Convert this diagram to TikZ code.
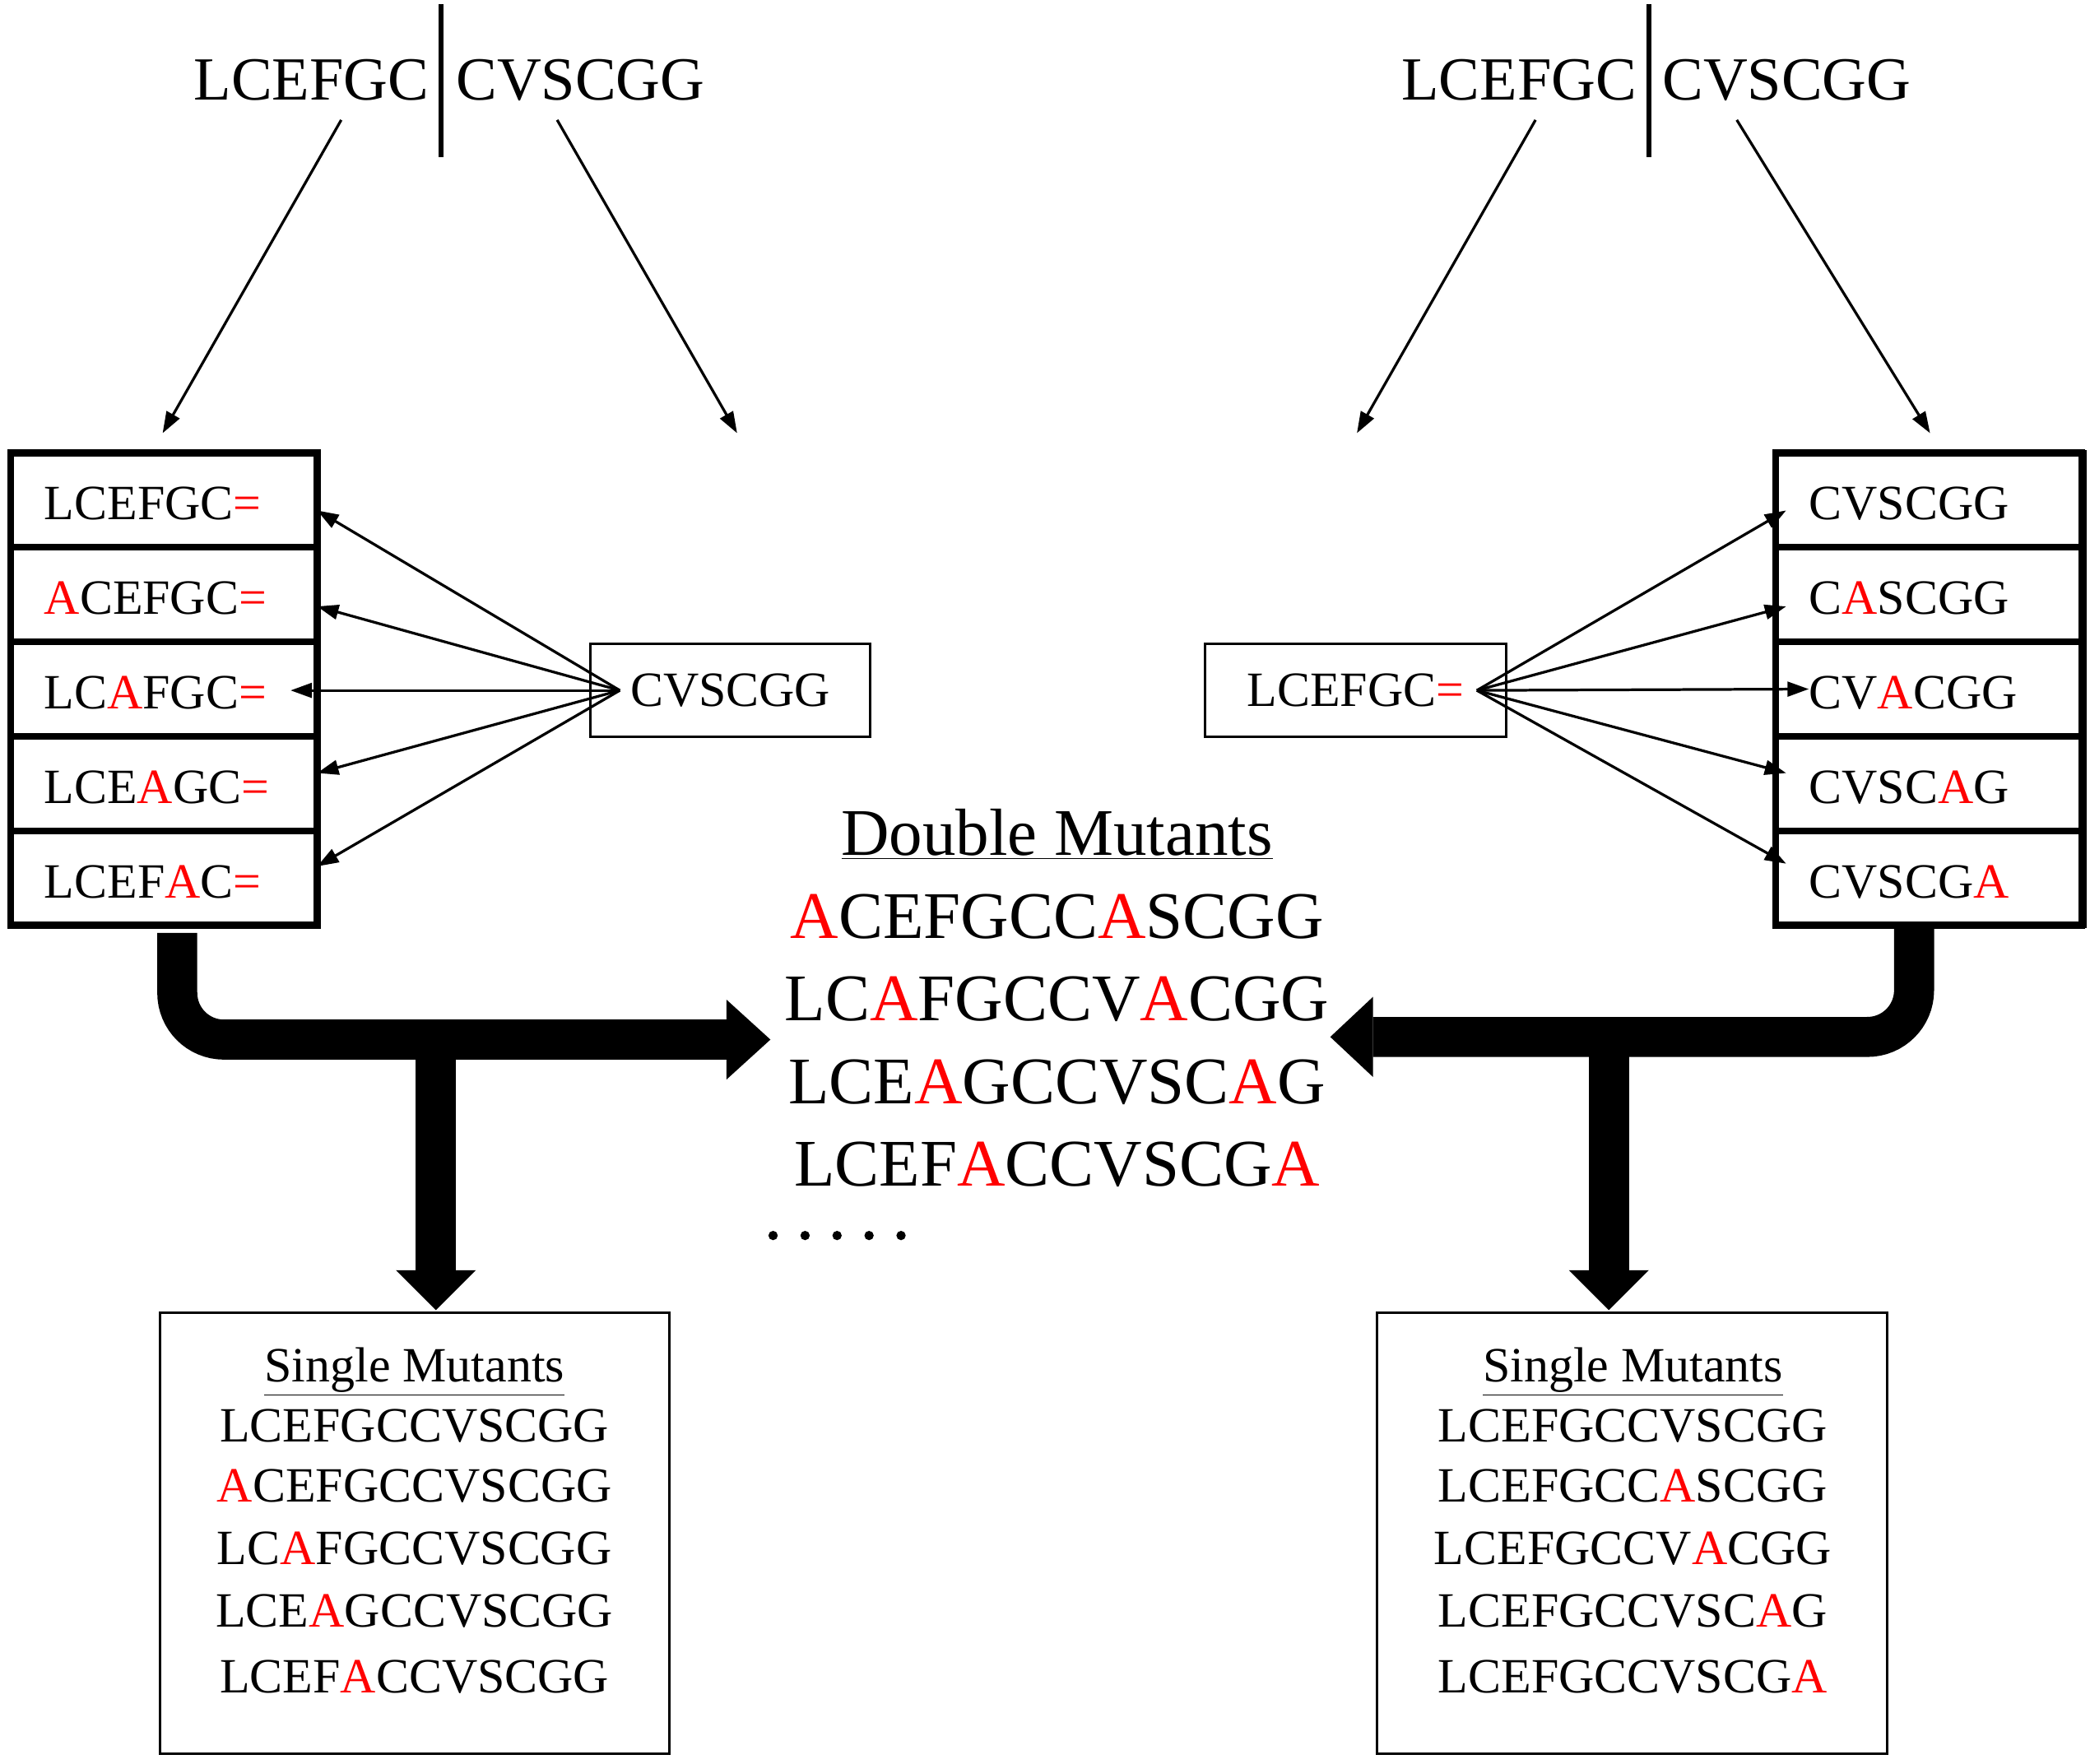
\documentclass[tikz,border=0pt]{standalone}
\usepackage{fontspec}
\setmainfont{Liberation Serif}
\usetikzlibrary{arrows.meta}
\newcommand{\R}[1]{\textcolor{red}{#1}}
\begin{document}
\begin{tikzpicture}[x=1pt,y=-1pt,
  big/.style={font=\fontsize{46}{50}\selectfont},
  dbl/.style={font=\fontsize{50}{54}\selectfont},
  mid/.style={font=\fontsize{37}{40}\selectfont},
  sm/.style={font=\fontsize{37}{40}\selectfont},
  thin/.style={line width=2pt,-{Triangle[length=16pt,width=11pt]}},
  fat/.style={line width=30pt},
  row/.style={draw,line width=5pt,minimum width=230pt,minimum height=71pt,inner sep=0pt},
  box/.style={draw,line width=1.8pt}]
\useasboundingbox (0,0) rectangle (1568,1323);
% top labels
\node[big,anchor=base east,inner sep=0] (t1) at (322,75) {LCEFGC};
\node[big,anchor=base west,inner sep=0] (t2) at (342,75) {CVSCGG};
\draw[line width=4pt] (331,3) -- (331,118);
\node[big,anchor=base east,inner sep=0] (t3) at (1228,75) {LCEFGC};
\node[big,anchor=base west,inner sep=0] (t4) at (1247,75) {CVSCGG};
\draw[line width=4pt] (1237,3) -- (1237,118);
\coordinate (a1) at (256,90); \coordinate (b1) at (122,325);
\coordinate (a2) at (418,90); \coordinate (b2) at (553,325);
\coordinate (a3) at (1152,90); \coordinate (b3) at (1018,325);
\coordinate (a4) at (1303,90); \coordinate (b4) at (1448,325);
\draw[thin] (a1) -- (b1); \draw[thin] (a2) -- (b2);
\draw[thin] (a3) -- (b3); \draw[thin] (a4) -- (b4);
% left stack
\foreach \i/\t in {0/{LCEFGC\R{=}},1/{\R{A}CEFGC\R{=}},2/{LC\R{A}FGC\R{=}},3/{LCE\R{A}GC\R{=}},4/{LCEF\R{A}C\R{=}}}{
  \node[row] (L\i) at (123,{375+71*\i}) {};
  \node[mid,anchor=west,inner sep=0] at (33,{378+71*\i}) {\t};
}
\foreach \i/\t in {0/{CVSCGG},1/{C\R{A}SCGG},2/{CV\R{A}CGG},3/{CVSC\R{A}G},4/{CVSCG\R{A}}}{
  \node[row] (Rr\i) at (1447,{375+71*\i}) {};
  \node[mid,anchor=west,inner sep=0] at (1357,{378+71*\i}) {\t};
}
\draw[line width=5pt] (8,340) rectangle (238,694);
\draw[line width=5pt] (1332,340) rectangle (1563,694);
% middle boxes
\node[box,mid,minimum width=210pt,minimum height=70pt,inner sep=0] (cv) at (548,518) {CVSCGG};
\node[box,mid,minimum width=226pt,minimum height=70pt,inner sep=0] (lc) at (1017,518) {LCEFGC\R{=}};
\coordinate (s1) at (465,518);
\foreach \y/\x in {383/238,455/238,518/218,580/238,650/238}{\draw[thin] (s1) -- (\x,\y);}
\coordinate (s2) at (1108,518);
\foreach \y/\x in {383/1340,455/1340,517/1357,580/1340,648/1340}{\draw[thin] (s2) -- (\x,\y);}
% double mutants
\node[dbl,anchor=base] (dm) at (793,642) {\underline{Double Mutants}};
\node[dbl,anchor=base] (d1) at (793,704) {\R{A}CEFGCC\R{A}SCGG};
\node[dbl,anchor=base] (d2) at (793,766) {LC\R{A}FGCCV\R{A}CGG};
\node[dbl,anchor=base] (d3) at (793,828) {LCE\R{A}GCCVSC\R{A}G};
\node[dbl,anchor=base] (d4) at (793,890) {LCEF\R{A}CCVSCG\R{A}};
\foreach \x in {580,604,628,652,676}{\fill (\x,927) circle (3.5pt);}
% fat arrows
\coordinate (f1) at (133,700); \coordinate (f2) at (545,780);
\draw[fat] (f1) -- (133,745) arc[start angle=180,end angle=90,radius=35] -- (f2);
\fill (545,750) -- (578,780) -- (545,810) -- cycle;
\draw[fat] (327,780) -- (327,953);
\fill (297,953) -- (357,953) -- (327,983) -- cycle;
\coordinate (g1) at (1436,695); \coordinate (g2) at (1030,778);
\draw[fat] (g1) -- (1436,743) arc[start angle=0,end angle=90,radius=35] -- (g2);
\fill (1030,748) -- (998,778) -- (1030,808) -- cycle;
\draw[fat] (1207,778) -- (1207,953);
\fill (1177,953) -- (1237,953) -- (1207,983) -- cycle;
% single mutants boxes
\draw[box] (120,985) rectangle (502,1316);
\draw[box] (1033,985) rectangle (1416,1316);
\foreach \cx/\la/\lb/\lc/\ld/\le/\n in {311/{LCEFGCCVSCGG}/{\R{A}CEFGCCVSCGG}/{LC\R{A}FGCCVSCGG}/{LCE\R{A}GCCVSCGG}/{LCEF\R{A}CCVSCGG}/l,1225/{LCEFGCCVSCGG}/{LCEFGCC\R{A}SCGG}/{LCEFGCCV\R{A}CGG}/{LCEFGCCVSC\R{A}G}/{LCEFGCCVSCG\R{A}}/r}{
  \node[sm,anchor=base] (\n t) at (\cx,1037) {\underline{Single Mutants}};
  \node[sm,anchor=base] (\n 1) at (\cx,1082) {\la};
  \node[sm,anchor=base] (\n 2) at (\cx,1127) {\lb};
  \node[sm,anchor=base] (\n 3) at (\cx,1174) {\lc};
  \node[sm,anchor=base] (\n 4) at (\cx,1221) {\ld};
  \node[sm,anchor=base] (\n 5) at (\cx,1270) {\le};
}
\end{tikzpicture}
\end{document}
